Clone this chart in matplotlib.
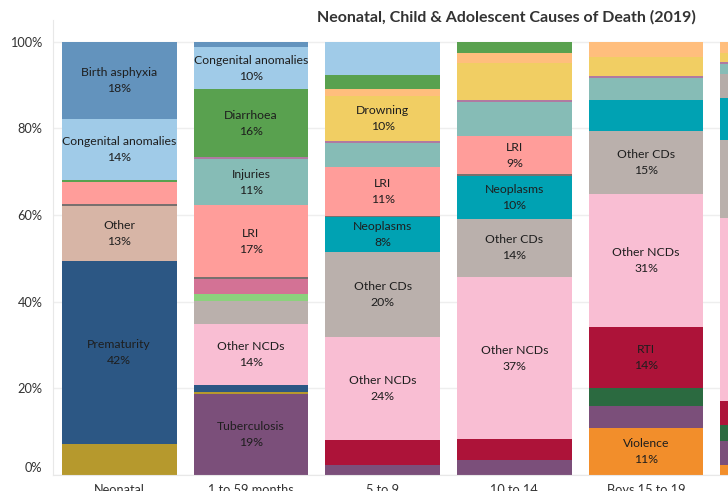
import matplotlib
matplotlib.use("Agg")
import matplotlib.pyplot as plt
import matplotlib.transforms as mtransforms
import numpy as np

plt.rcParams['font.family'] = ['Lato', 'DejaVu Sans']

groups = ["Neonatal", "1 to 59 months", "5 to 9", "10 to 14",
          "Boys 15 to 19", "Girls 15 to 19"]

# share of deaths (%) per cause, bottom of the stack first
violence     = [0.0, 0.0, 0.0, 0.0, 10.9, 2.2]
tuberculosis = [0.0, 18.8, 2.3, 3.5, 5.2, 5.5]
sepsis       = [7.2, 0.4, 0.0, 0.0, 0.0, 0.0]
self_harm    = [0.0, 0.0, 0.0, 0.0, 4.1, 3.9]
prematurity  = [42.3, 1.5, 0.0, 0.0, 0.0, 0.0]
rti          = [0.0, 0.0, 5.8, 4.8, 14.2, 5.5]
other_ncds   = [0.0, 14.2, 23.8, 37.4, 30.8, 42.0]
other        = [12.6, 0.0, 0.0, 0.0, 0.0, 0.0]
other_cds    = [0.0, 5.2, 19.6, 13.6, 14.6, 17.8]
measles      = [0.0, 1.7, 0.0, 0.0, 0.0, 0.0]
malaria      = [0.0, 3.5, 0.0, 0.0, 0.0, 0.0]
neoplasms    = [0.0, 0.0, 8.1, 9.8, 7.1, 9.7]
maternal     = [0.0, 0.0, 0.0, 0.0, 0.0, 5.5]
meningitis   = [0.5, 0.3, 0.3, 0.5, 0.0, 0.0]
lri          = [5.0, 16.6, 11.3, 8.7, 0.0, 0.0]
injuries     = [0.0, 10.8, 5.5, 8.0, 5.1, 2.3]
hiv          = [0.0, 0.4, 0.5, 0.5, 0.4, 0.5]
drowning     = [0.0, 0.0, 10.4, 8.5, 4.5, 2.0]
burns        = [0.0, 0.0, 1.7, 2.2, 3.5, 2.7]
diarrhoea    = [0.5, 15.6, 3.3, 2.7, 0.0, 0.0]
congenital   = [14.1, 9.8, 7.6, 0.0, 0.0, 0.0]
asphyxia     = [17.8, 1.2, 0.0, 0.0, 0.0, 0.0]

causes = [
    ("Violence", violence, "#F28E2B"),
    ("Tuberculosis", tuberculosis, "#7B4F7A"),
    ("Sepsis", sepsis, "#B6992D"),
    ("Self-harm", self_harm, "#2B6A40"),
    ("Prematurity", prematurity, "#2C5784"),
    ("RTI", rti, "#AD1339"),
    ("Other NCDs", other_ncds, "#F9BED3"),
    ("Other", other, "#D7B5A6"),
    ("Other CDs", other_cds, "#BAB0AC"),
    ("Measles", measles, "#8CD17D"),
    ("Malaria", malaria, "#D37295"),
    ("Neoplasms", neoplasms, "#00A2B3"),
    ("Maternal", maternal, "#B5ACA8"),
    ("Meningitis", meningitis, "#79706E"),
    ("LRI", lri, "#FF9D9A"),
    ("Injuries", injuries, "#86BCB6"),
    ("HIV/AIDS", hiv, "#B07AA1"),
    ("Drowning", drowning, "#F1CE63"),
    ("Burns", burns, "#FFBE7D"),
    ("Diarrhoea", diarrhoea, "#59A14F"),
    ("Congenital anomalies", congenital, "#A0CBE8"),
    ("Birth asphyxia", asphyxia, "#6393BD"),
]

hidden_labels = [("10 to 14", "Drowning")]
label_min = 8.05

fig = plt.figure(figsize=(7.28, 4.91), dpi=100)
ax = fig.add_axes([53 / 728, 16 / 491, 675 / 728, 455 / 491])
xmin, xmax = -0.503, 4.622

x = np.arange(len(groups))
totals = np.sum([v for _, v, _ in causes], axis=0)
bottom = np.zeros(len(groups))
for name, vals, color in causes:
    vals = np.array(vals)
    h = vals / totals * 100
    ax.bar(x, h, width=0.871, bottom=bottom, color=color, linewidth=0, zorder=2)
    for i in range(len(groups)):
        # the last column runs off the right edge of the view, like the source
        if x[i] + 0.5 > xmax:
            continue
        if vals[i] >= label_min and (groups[i], name) not in hidden_labels:
            ax.text(x[i], bottom[i] + h[i] / 2, f"{name}\n{vals[i]:.0f}%",
                    ha='center', va='center', fontsize=8.8, color='#1E1E1E',
                    linespacing=1.55, clip_on=True, zorder=3)
    bottom += h

ax.set_yticks(range(0, 101, 20))
ax.set_yticklabels([f"{t}%" for t in range(0, 101, 20)], fontsize=9.2, color='#333333')
ax.grid(axis='y', color='#EEEEEE', linewidth=1, zorder=0)
ax.tick_params(axis='y', length=0, pad=7.5)
ax.tick_params(axis='x', length=0, pad=6.5)
ax.set_xticks(x[:-1])
ax.set_xticklabels(groups[:-1], fontsize=9.2, color='#333333')
ax.set_xlim(xmin, xmax)
ax.set_ylim(0, 105)
# Tableau lifts the bottom tick label above the baseline
lbl0 = ax.get_yticklabels()[0]
lbl0.set_transform(lbl0.get_transform() + mtransforms.ScaledTranslation(0, 0.075, fig.dpi_scale_trans))

for s in ['top', 'right']:
    ax.spines[s].set_visible(False)
ax.spines['left'].set_color('#E8E8E8')
ax.spines['bottom'].set_color('#E8E8E8')

fig.text(506 / 728, 1 - 17 / 491, "Neonatal, Child & Adolescent Causes of Death (2019)",
         ha='center', va='center', fontsize=11.5, fontweight='bold', color='#333333')

plt.savefig("out.png", dpi=100)
plt.close()
